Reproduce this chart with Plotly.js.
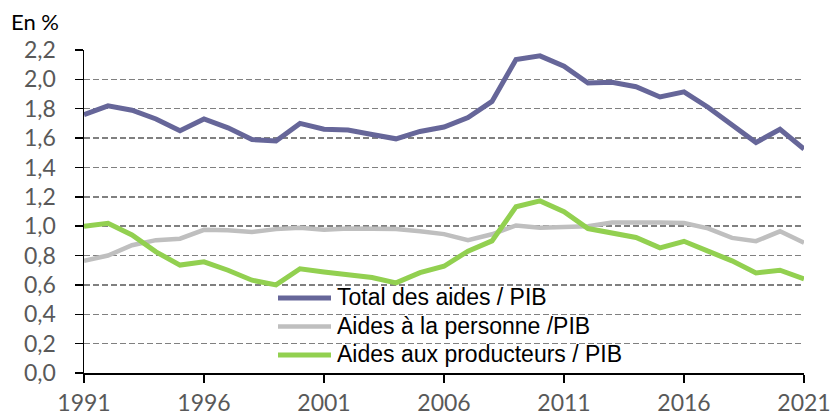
<!DOCTYPE html>
<html>
<head>
<meta charset="utf-8">
<script src="https://cdn.plot.ly/plotly-3.0.1.min.js"></script>
<style>html,body{margin:0;padding:0;background:#fff;}#chart{width:830px;height:416px;}</style>
</head>
<body>
<div id="chart"></div>
<script>
const years = [1991,1992,1993,1994,1995,1996,1997,1998,1999,2000,2001,2002,2003,2004,2005,2006,2007,2008,2009,2010,2011,2012,2013,2014,2015,2016,2017,2018,2019,2020,2021];
const totalAides = [1.76,1.82,1.79,1.73,1.65,1.73,1.67,1.59,1.58,1.70,1.66,1.655,1.625,1.595,1.645,1.675,1.74,1.85,2.135,2.16,2.09,1.975,1.98,1.95,1.88,1.915,1.81,1.69,1.57,1.66,1.525];
const aidesPersonne = [0.765,0.80,0.87,0.905,0.915,0.975,0.973,0.96,0.98,0.99,0.975,0.985,0.982,0.98,0.966,0.946,0.905,0.945,1.005,0.99,0.995,1.0,1.025,1.027,1.025,1.022,0.985,0.92,0.898,0.965,0.888];
const aidesProducteurs = [1.00,1.02,0.94,0.825,0.735,0.757,0.70,0.632,0.60,0.71,0.688,0.671,0.65,0.614,0.684,0.727,0.83,0.90,1.132,1.172,1.098,0.984,0.955,0.923,0.852,0.897,0.83,0.764,0.682,0.70,0.641];
const seriesNames = ["Total des aides / PIB", "Aides à la personne /PIB", "Aides aux producteurs / PIB"];
const yTitle = "En %";

const colors = ["#666699", "#BFBFBF", "#92D050"];
const data = [totalAides, aidesPersonne, aidesProducteurs].map((ys, i) => ({
  type: "scatter", mode: "lines", x: years, y: ys, name: seriesNames[i],
  line: {color: colors[i], width: i === 1 ? 4.5 : 5}, showlegend: false
}));

// Legend drawn in the plot area (paper coordinates)
const plotH = 416 - 50 - 43, plotW = 830 - 84 - 26;
const legendRowsPx = [298, 326.5, 355];
const legendShapes = seriesNames.map((n, i) => ({
  type: "line", xref: "paper", yref: "paper",
  x0: (278 - 84) / plotW, x1: (331 - 84) / plotW,
  y0: (373 - legendRowsPx[i]) / plotH, y1: (373 - legendRowsPx[i]) / plotH,
  line: {color: colors[i], width: i === 1 ? 4.5 : 5}
}));
const legendAnnots = seriesNames.map((n, i) => ({
  text: n, xref: "paper", yref: "paper", showarrow: false,
  x: (335 - 84) / plotW, xanchor: "left",
  y: (373 - legendRowsPx[i] + 1) / plotH, yanchor: "middle",
  font: {family: "'Liberation Sans', Arial, sans-serif", size: 23, color: "#000"}
}));

const tickFont = {family: "Lato, 'Open Sans', sans-serif", size: 23, color: "#595959"};
const layout = {
  width: 830, height: 416,
  margin: {l: 84, r: 26, t: 50, b: 43},
  paper_bgcolor: "#fff", plot_bgcolor: "#fff",
  separators: ", ",
  showlegend: false,
  shapes: legendShapes,
  annotations: legendAnnots,
  title: {text: yTitle, x: 11/830, xref: "container", xanchor: "left", y: 1 - 22/416, yref: "container", yanchor: "middle",
    font: {family: "Lato, 'Open Sans', sans-serif", size: 22, color: "#000"}},
  xaxis: {
    range: [1991, 2021], tick0: 1991, dtick: 5, tickformat: "d",
    showgrid: false, zeroline: false,
    showline: true, linecolor: "#000", linewidth: 1.5,
    ticks: "outside", ticklen: 8, tickcolor: "#000", tickwidth: 1.5,
    ticklabelstandoff: 1, ticklabeloverflow: "allow",
    tickfont: tickFont, fixedrange: true
  },
  yaxis: {
    range: [0, 2.2], dtick: 0.2, tick0: 0, tickformat: ".1f",
    showgrid: true, gridcolor: "#808080", gridwidth: 1.5, griddash: "6px,3px",
    zeroline: false,
    showline: true, linecolor: "#000", linewidth: 1.5,
    ticks: "outside", ticklen: 8, tickcolor: "#000", tickwidth: 1.5,
    ticklabelstandoff: 14,
    tickfont: tickFont, fixedrange: true
  }
};
Plotly.newPlot("chart", data, layout, {displayModeBar: false, staticPlot: true});
</script>
</body>
</html>
